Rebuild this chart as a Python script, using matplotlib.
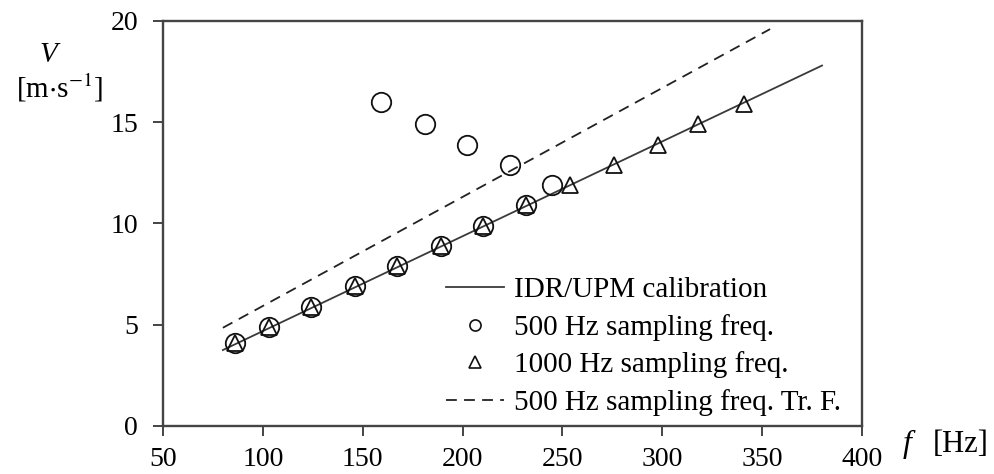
import matplotlib
matplotlib.use("Agg")
import matplotlib.pyplot as plt
from matplotlib.lines import Line2D

# Data
calib_f = [80, 380]
calib_v = [3.75, 17.8]
trf_f = [80, 354]
trf_v = [4.85, 19.6]
f500 = [86, 103, 124, 146, 167, 189, 210, 232, 159, 181, 202, 224, 245]
v500 = [4.1, 4.9, 5.9, 6.9, 7.9, 8.9, 9.9, 10.9, 16.0, 14.9, 13.9, 12.9, 11.9]
f1000 = [86, 103, 124, 146, 167, 189, 210, 232, 254, 276, 298, 318, 341]
v1000 = [4.1, 4.9, 5.9, 6.9, 7.9, 8.9, 9.9, 10.9, 11.9, 12.9, 13.9, 14.9, 15.9]
xticks = [50, 100, 150, 200, 250, 300, 350, 400]
yticks = [0, 5, 10, 15, 20]
labels = ["IDR/UPM calibration", "500 Hz sampling freq.",
          "1000 Hz sampling freq.", "500 Hz sampling freq. Tr. F."]

plt.rcParams['font.family'] = ['Liberation Serif', 'DejaVu Serif']
plt.rcParams['mathtext.fontset'] = 'stix'

fig = plt.figure(figsize=(9.95, 4.74), dpi=100)
ax = fig.add_axes([0.1638, 0.1013, 0.7025, 0.8544])

spc = '#444444'
ax.plot(calib_f, calib_v, '-', color='#3a3a3a', lw=1.3, zorder=2)
ax.plot(trf_f, trf_v, '--', color='#222222', lw=1.3, dashes=(6, 4), zorder=2)
ax.plot(f1000, v1000, linestyle='none', marker='^', ms=12, mfc='none',
        mec='#111111', mew=1.3, zorder=3)
ax.plot(f500, v500, linestyle='none', marker='o', ms=14, mfc='none',
        mec='#111111', mew=1.3, zorder=3)

ax.set_xlim(50, 400)
ax.set_ylim(0, 20)
ax.set_xticks(xticks)
ax.set_yticks(yticks)
ax.tick_params(direction='out', length=7, width=1.4, color=spc,
               labelsize=20)
ax.tick_params(axis='y', pad=11)
ax.tick_params(axis='x', pad=8)
for s in ax.spines.values():
    s.set_color(spc)
    s.set_linewidth(1.7)

handles = [
    Line2D([], [], color='#3a3a3a', lw=1.3),
    Line2D([], [], linestyle='none', marker='o', ms=8, mfc='none', mec='#111111', mew=1.2),
    Line2D([], [], linestyle='none', marker='^', ms=8, mfc='none', mec='#111111', mew=1.2),
    Line2D([], [], color='#222222', lw=1.3, linestyle='--', dashes=(6, 4)),
]
ax.legend(handles, labels, loc='lower right', bbox_to_anchor=(0.991, -0.012),
          frameon=False, fontsize=21, handlelength=2.0, handletextpad=0.35,
          labelspacing=0.37, borderpad=0.0)

fig.text(0.049, 0.884, 'V', fontsize=21, style='italic', ha='center', va='center')
fig.text(0.060, 0.815, r'[m$\cdot$s$^{-1}$]', fontsize=21, ha='center', va='center')
fig.text(0.912, 0.062, 'f', fontsize=23, style='italic', ha='center', va='center')
fig.text(0.966, 0.062, '[Hz]', fontsize=22, ha='center', va='center')

fig.savefig('out.png', dpi=100)
